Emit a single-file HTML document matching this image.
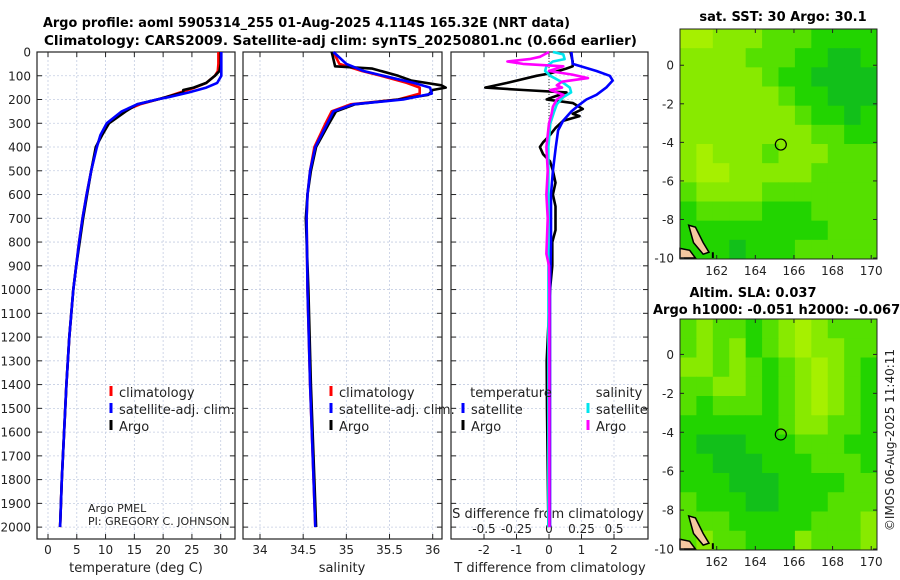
<!DOCTYPE html>
<html><head><meta charset="utf-8">
<style>
html,body{margin:0;padding:0;background:#fff;}
svg{display:block;font-family:"DejaVu Sans","Liberation Sans",sans-serif;}
</style></head>
<body>
<svg id="chart" width="900" height="580" viewBox="0 0 900 580" xmlns="http://www.w3.org/2000/svg">
<text x="43" y="27" textLength="527" lengthAdjust="spacingAndGlyphs" font-size="13" font-weight="bold">Argo profile: aoml 5905314_255 01-Aug-2025 4.114S 165.32E (NRT data)</text>
<text x="44" y="45" textLength="593" lengthAdjust="spacingAndGlyphs" font-size="13" font-weight="bold">Climatology: CARS2009. Satellite-adj clim: synTS_20250801.nc (0.66d earlier)</text>
<text x="783" y="21" text-anchor="middle" font-size="13" font-weight="bold">sat. SST: 30 Argo: 30.1</text>
<text x="753" y="297" text-anchor="middle" font-size="13" font-weight="bold">Altim. SLA: 0.037</text>
<text x="653" y="314" font-size="13" font-weight="bold">Argo h1000: -0.051 h2000: -0.067</text>
<text transform="translate(894,440) rotate(-90)" text-anchor="middle" font-size="12" fill="#222">©IMOS 06-Aug-2025 11:40:11</text>
<g id="layer"></g>
</svg>
<script>
// ---- data ----
const depthT = [0,50,80,100,130,150,170,190,200,220,250,300,350,400,500,600,700,800,900,1000,1200,1400,1600,1800,2000];
const tClim  = [29.6,29.6,29.5,29.0,27.5,25.5,23.0,20.5,19.0,16.0,13.0,10.4,9.2,8.4,7.5,6.7,6.0,5.4,4.9,4.4,3.7,3.2,2.8,2.4,2.1];
const tSat   = [30.1,30.1,30.1,30.1,29.4,27.5,24.5,21.0,18.9,15.5,12.8,10.2,9.1,8.5,7.5,6.7,6.0,5.4,4.9,4.4,3.7,3.2,2.8,2.4,2.1];
const depthA = [0,50,80,100,130,150,160,170,180,200,220,250,300,350,400,500,600,700,800,900,1000,1200,1400,1600,1800,2000];
const tArgo  = [30.0,30.0,29.8,29.0,27.5,25.3,23.5,23.5,22.0,19.0,15.5,13.5,10.6,9.4,8.3,7.5,6.8,6.1,5.5,4.9,4.4,3.7,3.2,2.8,2.4,2.1];
const sDepth = [0,50,80,100,130,150,175,200,220,250,300,400,500,600,700,1000,1400,2000];
const sClim  = [34.85,34.92,35.18,35.4,35.7,35.85,35.85,35.6,35.05,34.83,34.76,34.63,34.58,34.55,34.54,34.55,34.58,34.64];
const sSat   = [34.85,35.0,35.2,35.43,35.78,35.97,35.99,35.66,35.08,34.85,34.78,34.64,34.58,34.55,34.54,34.55,34.58,34.64];
const sArgoDepth = [0,30,60,70,100,120,140,150,160,180,200,220,250,300,400,500,600,700,1000,1400,2000];
const sArgo  = [34.83,34.85,34.87,35.3,35.6,35.75,36.1,36.15,36.0,35.95,35.6,35.1,34.88,34.8,34.65,34.59,34.55,34.53,34.56,34.59,34.65];
const dTDepthSat = [0,50,80,100,120,150,180,200,220,250,290,330,400,500,600,800,1000,2000];
const dTSat = [0.69,0.73,1.46,1.87,1.96,1.76,1.46,1.15,0.95,0.69,0.43,0.28,0.21,0.12,0.06,0.06,0.03,0.03];
const dTDepthArgo = [0,40,60,70,90,100,130,150,160,170,190,200,215,240,260,270,290,320,350,380,400,430,460,500,550,600,650,700,750,800,900,1000,1300,1500,2000];
const dTArgo = [0.66,0.73,0.73,0.53,0.03,-0.38,-1.29,-1.96,-0.79,0.54,0.12,-0.07,0.74,1.04,0.73,0.94,0.43,0.2,0.03,-0.18,-0.28,-0.18,0.03,0.12,0.2,0.12,0.2,0.2,0.2,0.1,0.1,0.03,-0.07,-0.06,-0.02];
const dSDepthSat = [0,10,30,40,60,80,100,130,150,170,190,220,250,300,400,2000];
const dSSat = [0.03,0.11,0.12,0.03,-0.02,-0.03,0.01,0.11,0.16,0.17,0.11,0.06,0.04,0.01,-0.005,-0.005];
const dSDepthArgo = [0,20,30,40,50,60,80,95,110,125,140,150,160,180,200,230,260,300,400,500,600,700,850,900,1000,2000];
const dSArgo = [0,-0.07,-0.15,-0.32,-0.2,0.11,0,0.18,0.3,0.1,0.06,0.1,0.01,0.11,0.06,0.03,0.02,0,-0.02,-0.01,-0.02,-0.01,-0.02,0,0.003,0.003];
const depthTicks = [0,100,200,300,400,500,600,700,800,900,1000,1100,1200,1300,1400,1500,1600,1700,1800,1900,2000];
const tTicks = [0,5,10,15,20,25,30];
const sTicks = [34,34.5,35,35.5,36];
const dTTicks = [-2,-1,0,1,2];
const dSTicks = [-0.5,-0.25,0,0.25,0.5];
const dSTickLabels = ["-0.5","-0.25","0","0.25","0.5"];
const lonTicks = [162,164,166,168,170];
const latTicks = [0,-2,-4,-6,-8,-10];
const sstGrid = [
[4,4,3,3,3,2,2,2,1,1,1,1],
[3,3,3,3,2,2,2,1,1,0,0,1],
[3,3,3,3,3,2,1,1,0,0,0,0],
[3,3,3,3,3,3,2,1,1,0,0,0],
[3,3,3,3,3,3,3,2,1,1,0,1],
[3,3,3,3,3,3,3,3,2,2,1,1],
[3,4,3,3,3,2,3,3,3,2,2,2],
[3,4,4,3,3,3,3,3,2,2,2,2],
[2,3,3,3,3,2,2,2,2,2,2,2],
[1,2,2,2,2,1,1,1,2,2,2,2],
[1,1,1,1,1,1,1,1,1,2,2,2],
[1,1,1,0,1,1,1,2,2,2,2,2]];
const slaGrid = [
[2,3,2,2,1,2,3,4,3,2,2,2],
[2,3,2,3,1,2,3,4,3,3,2,2],
[3,3,2,3,2,1,2,3,4,3,2,1],
[2,2,3,3,2,1,2,3,4,3,2,1],
[2,1,2,2,2,1,2,3,4,3,2,1],
[1,1,1,1,1,1,2,3,3,2,2,1],
[1,0,0,0,1,1,1,2,2,2,1,1],
[1,1,0,0,0,1,1,1,2,2,2,1],
[1,1,1,0,0,0,1,1,1,1,2,2],
[2,1,1,1,0,0,1,1,1,2,2,2],
[2,2,2,1,1,1,1,1,2,2,2,3],
[2,3,2,2,1,1,1,3,2,2,2,3]];
const argoLon = 165.32, argoLat = -4.114;

// ---- helpers ----
const NS="http://www.w3.org/2000/svg";
const layer=document.getElementById('layer');
function mk(tag,attrs,parent){const e=document.createElementNS(NS,tag);for(const k in attrs)e.setAttribute(k,attrs[k]);(parent||layer).appendChild(e);return e;}
const Y0=52, Y1=539, DMAX=2050;
const yD = d => Y0 + d*(Y1-Y0)/DMAX;
function lin(d0,d1,p0,p1){return v=>p0+(v-d0)*(p1-p0)/(d1-d0);}
const panels=[
 {x0:37,x1:235,name:'temperature-panel'},
 {x0:243,x1:442,name:'salinity-panel'},
 {x0:451,x1:648,name:'difference-panel'}];
const xT = lin(0,30,48,220.7);
const xS = lin(34,36,260,432.7);
const xdT = lin(0,2,549,614);
const xdS = lin(0,0.5,549,614);

panels.forEach((p,i)=>{
  const g=mk('g',{});
  
  
  let xticks = i==0?tTicks.map(xT):i==1?sTicks.map(xS):dTTicks.map(xdT);
  xticks.forEach(x=>{const l=mk('line',{x1:x,x2:x,y1:Y0,y2:Y1,stroke:'#c4cde2','stroke-width':0.8,'stroke-dasharray':'2,2'},g);
    
    mk('line',{x1:x,x2:x,y1:Y1,y2:Y1-5,stroke:'#222'},g);mk('line',{x1:x,x2:x,y1:Y0,y2:Y0+5,stroke:'#222'},g);});
  depthTicks.forEach(d=>{const y=yD(d);const l=mk('line',{x1:p.x0,x2:p.x1,y1:y,y2:y,stroke:'#c4cde2','stroke-width':0.8,'stroke-dasharray':'2,2'},g);
    
    mk('line',{x1:p.x0,x2:p.x0+5,y1:y,y2:y,stroke:'#222'},g);mk('line',{x1:p.x1,x2:p.x1-5,y1:y,y2:y,stroke:'#222'},g);});
  const r=mk('rect',{x:p.x0,y:Y0,width:p.x1-p.x0,height:Y1-Y0,fill:'none',stroke:'#222','stroke-width':1.2},g);
  
});
// y tick labels
depthTicks.forEach(d=>{const t=mk('text',{x:31,y:yD(d)+4.5,'text-anchor':'end','font-size':12,fill:'#222'});t.textContent=d;
  });
function xlabels(ticks,labels,fx,y){ticks.forEach((v,i)=>{const t=mk('text',{x:fx(v),y:y,'text-anchor':'middle','font-size':12,fill:'#222'});t.textContent=labels[i];
  });}
xlabels(tTicks,tTicks.map(String),xT,554);
xlabels(sTicks,sTicks.map(String),xS,554);
xlabels(dTTicks,dTTicks.map(String),xdT,554);
// S axis inside panel 3
dSTicks.forEach(v=>{mk('line',{x1:xdS(v),x2:xdS(v),y1:Y1,y2:Y1-5,stroke:'#222'});});
xlabels(dSTicks,dSTickLabels,xdS,533);
function label(x,y,txt,name,size){const t=mk('text',{x:x,y:y,'text-anchor':'middle','font-size':size||13,fill:'#222'});t.textContent=txt;
  return t;}
label(136,572,'temperature (deg C)','x-axis-title-temperature');
label(342,572,'salinity','x-axis-title-salinity');
label(550,572,'T difference from climatology','x-axis-title-t-difference');
label(548,518,'S difference from climatology','x-axis-title-s-difference');
// zero line panel 3
mk('line',{x1:xdT(0),x2:xdT(0),y1:Y0,y2:yD(420),stroke:'#333','stroke-width':1,'stroke-dasharray':'1,2'});

function series(ds,vs,fx,color,name,w){
  const pts=ds.map((d,i)=>fx(vs[i]).toFixed(1)+','+yD(d).toFixed(1)).join(' ');
  const pl=mk('polyline',{points:pts,fill:'none',stroke:color,'stroke-width':w||2.6,'stroke-linejoin':'round'});
  
}
series(depthT,tClim,xT,'#ff0000','temperature-climatology-line');
series(depthA,tArgo,xT,'#000','temperature-argo-line');
series(depthT,tSat,xT,'#0000ff','temperature-satellite-line');
series(sDepth,sClim,xS,'#ff0000','salinity-climatology-line');
series(sArgoDepth,sArgo,xS,'#000','salinity-argo-line');
series(sDepth,sSat,xS,'#0000ff','salinity-satellite-line');
series(dTDepthArgo,dTArgo,xdT,'#000','t-diff-argo-line');
series(dTDepthSat,dTSat,xdT,'#0000ff','t-diff-satellite-line');
series(dSDepthSat,dSSat,xdS,'#00e5ee','s-diff-satellite-line');
series(dSDepthArgo,dSArgo,xdS,'#ff00ff','s-diff-argo-line');

// legends
function legEntry(x,y,color,txt){const g=mk('g',{});
  
  mk('rect',{x:x-1.5,y:y-11,width:3,height:10,fill:color},g);
  const t=mk('text',{x:x+8,y:y,'font-size':13,fill:'#222'},g);t.textContent=txt;}
[[111,'#f00','climatology'],[111,'#00f','satellite-adj. clim.'],[111,'#000','Argo']].forEach((e,i)=>legEntry(e[0],397+i*17,e[1],e[2]));
[[331,'#f00','climatology'],[331,'#00f','satellite-adj. clim.'],[331,'#000','Argo']].forEach((e,i)=>legEntry(e[0],397+i*17,e[1],e[2]));
label(511,397,'temperature','legend-title-temperature');
label(619,397,'salinity','legend-title-salinity');
legEntry(463,414,'#00f','satellite');legEntry(463,431,'#000','Argo');
legEntry(588,414,'#00e5ee','satellite');legEntry(588,431,'#f0f','Argo');
let t1=mk('text',{x:88,y:512,'font-size':11,fill:'#222'});t1.textContent='Argo PMEL';

let t2=mk('text',{x:88,y:525,'font-size':11,fill:'#222'});t2.textContent='PI: GREGORY C. JOHNSON';


// maps
const colors=['#12c01a','#22d400','#55e000','#88ea00','#a6f000'];
function drawMap(grid,top,bottom,latTop,name){
  const L=680,R=877,lonL=160.1,lonR=170.3;
  const fx=lin(lonL,lonR,L,R), fy=lin(latTop,-10.05,top,bottom);
  const g=mk('g',{});
  const rows=grid.length, cols=grid[0].length;
  const cw=(R-L)/cols, ch=(bottom-top)/rows;
  grid.forEach((row,r)=>row.forEach((v,c)=>{const cell=mk('rect',{x:L+c*cw,y:top+r*ch,width:cw+0.5,height:ch+0.5,fill:colors[v]},g);
    }));
  // islands
  mk('path',{d:`M${fx(160.55)},${fy(-8.3)} L${fx(160.9)},${fy(-8.4)} L${fx(161.3)},${fy(-9.2)} L${fx(161.6)},${fy(-9.7)} L${fx(161.3)},${fy(-9.8)} L${fx(160.8)},${fy(-9.2)} Z`,fill:'#f5c8a0',stroke:'#000','stroke-width':1.5},g);
  mk('path',{d:`M${fx(160.1)},${fy(-9.5)} L${fx(160.6)},${fy(-9.6)} L${fx(160.9)},${fy(-10)} L${fx(160.1)},${fy(-10)} Z`,fill:'#f5c8a0',stroke:'#000','stroke-width':1.5},g);
  mk('line',{x1:fx(161.8),x2:fx(161.8),y1:fy(-9.7),y2:fy(-10),stroke:'#000','stroke-width':2},g);
  const c=mk('circle',{cx:fx(argoLon),cy:fy(argoLat),r:5.5,fill:'none',stroke:'#000','stroke-width':1.2},g);
  
  mk('rect',{x:L,y:top,width:R-L,height:bottom-top,fill:'none',stroke:'#222','stroke-width':1},g);
  lonTicks.forEach(v=>{const x=fx(v);mk('line',{x1:x,x2:x,y1:bottom,y2:bottom-4,stroke:'#222'},g);mk('line',{x1:x,x2:x,y1:top,y2:top+4,stroke:'#222'},g);
    const t=mk('text',{x:x,y:bottom+16,'text-anchor':'middle','font-size':12,fill:'#222'},g);t.textContent=v;
    });
  latTicks.forEach(v=>{const y=fy(v);mk('line',{x1:L,x2:L+4,y1:y,y2:y,stroke:'#222'},g);mk('line',{x1:R,x2:R-4,y1:y,y2:y,stroke:'#222'},g);
    const t=mk('text',{x:L-6,y:y+4.5,'text-anchor':'end','font-size':12,fill:'#222'},g);t.textContent=v;
    });
}
drawMap(sstGrid,29,259,1.88,'sst-map');
drawMap(slaGrid,319,550,1.82,'sla-map');
</script>
</body></html>
